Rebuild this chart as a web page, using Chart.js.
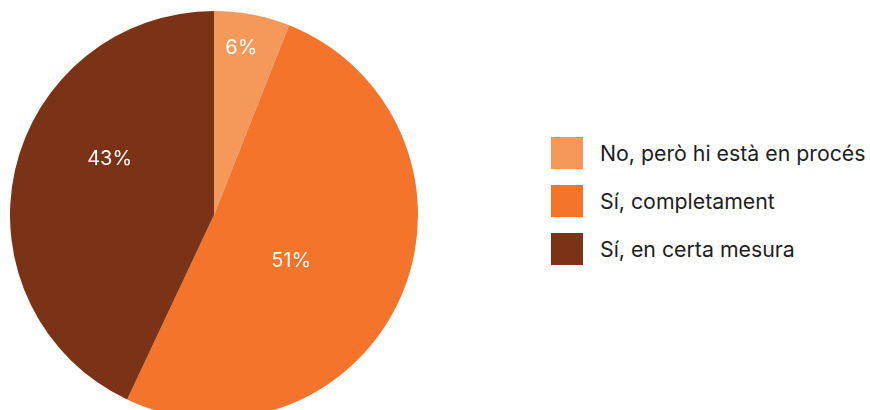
<!DOCTYPE html>
<html>
<head>
<meta charset="utf-8">
<script src="https://cdn.jsdelivr.net/npm/chart.js@4"></script>
<style>
    html, body { margin: 0; padding: 0; background: #fff; overflow: hidden; width: 870px; height: 410px; }
    #pieWrap { position: absolute; left: 0; top: 0; width: 428px; height: 430px; }
    #legend { position: absolute; left: 551px; top: 137px; font-family: Inter, sans-serif; font-size: 21.3px; color: #1e1e1e; }
    .row { display: flex; align-items: center; height: 32px; margin-bottom: 16px; }
    .box { width: 32px; height: 32px; margin-right: 17px; }
</style>
</head>
<body>
<div id="pieWrap"><canvas id="pieChart"></canvas></div>
<div id="legend"></div>
<script>
// --- data ---
const categories = ['No, però hi està en procés', 'Sí, completament', 'Sí, en certa mesura'];
const shares = [6, 51, 43];
const sliceColors = ['#F5995A', '#F4742B', '#7A3317'];
// where each % label sits: fraction along the slice's arc, fraction of radius
const labelAt = [[0.43, 0.83], [0.54, 0.44], [0.60, 0.58]];

document.addEventListener('DOMContentLoaded', function () {
    const pctLabels = {
        id: 'pctLabels',
        afterDatasetsDraw(chart) {
            const ctx = chart.ctx;
            const arcs = chart.getDatasetMeta(0).data;
            ctx.save();
            ctx.fillStyle = '#ffffff';
            ctx.font = '20px Inter, sans-serif';
            ctx.textAlign = 'center';
            ctx.textBaseline = 'middle';
            arcs.forEach(function (arc, i) {
                const p = arc.getProps(['x', 'y', 'startAngle', 'endAngle', 'outerRadius'], true);
                const a = p.startAngle + (p.endAngle - p.startAngle) * labelAt[i][0];
                const r = p.outerRadius * labelAt[i][1];
                ctx.fillText(shares[i] + '%', p.x + Math.cos(a) * r, p.y + Math.sin(a) * r);
            });
            ctx.restore();
        }
    };

    new Chart(document.getElementById('pieChart').getContext('2d'), {
        type: 'pie',
        data: {
            labels: categories,
            datasets: [{
                data: shares,
                backgroundColor: sliceColors,
                borderWidth: 0
            }]
        },
        options: {
            responsive: true,
            maintainAspectRatio: false,
            animation: false,
            layout: { padding: 10 },
            plugins: {
                legend: { display: false },
                tooltip: { enabled: false }
            }
        },
        plugins: [pctLabels]
    });

    // legend on the right
    const legend = document.getElementById('legend');
    categories.forEach(function (name, i) {
        const row = document.createElement('div');
        row.className = 'row';
        const box = document.createElement('div');
        box.className = 'box';
        box.style.background = sliceColors[i];
        const txt = document.createElement('span');
        txt.textContent = name;
        row.appendChild(box);
        row.appendChild(txt);
        legend.appendChild(row);
    });
});
</script>
</body>
</html>
